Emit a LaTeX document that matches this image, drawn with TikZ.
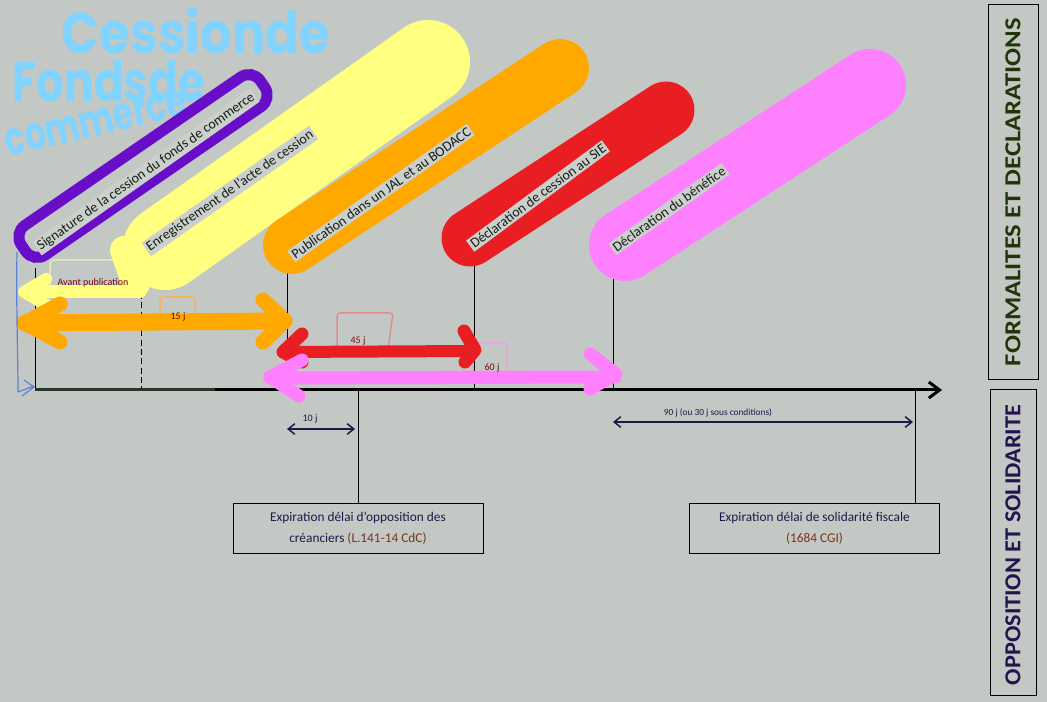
\documentclass[tikz,border=0pt]{standalone}
\usepackage{fontspec}
\setmainfont{Carlito}
\newfontfamily\titlefont{Poppins}
\usetikzlibrary{arrows.meta}
\newdimen\pxunit \pxunit=0.75pt
\definecolor{bg}{RGB}{196,200,197}
\definecolor{labfill}{RGB}{204,208,204}
\definecolor{purplec}{RGB}{104,14,200}
\definecolor{yellowc}{RGB}{255,255,128}
\definecolor{paleyellow}{RGB}{232,232,190}
\definecolor{orangec}{RGB}{255,168,0}
\definecolor{paleorange}{RGB}{240,180,100}
\definecolor{redc}{RGB}{232,30,35}
\definecolor{palered}{RGB}{222,140,140}
\definecolor{pinkc}{RGB}{255,128,255}
\definecolor{palepink}{RGB}{232,160,232}
\definecolor{cyanc}{RGB}{128,212,255}
\definecolor{bluec}{RGB}{90,130,220}
\definecolor{navy}{RGB}{32,24,72}
\definecolor{darkred}{RGB}{120,10,10}
\definecolor{brownc}{RGB}{120,50,30}
\definecolor{greenc}{RGB}{30,55,10}
\definecolor{violetc}{RGB}{35,20,80}
\definecolor{labtext}{RGB}{20,30,20}
\definecolor{darkline}{RGB}{40,52,40}
\tikzset{
  lab/.style={fill=labfill, inner sep=1.5pt, rotate=#1, text=labtext,
    font=\fontsize{10.5}{12}\selectfont},
  marker/.style={line width=#1, line cap=round, line join=round},
  tick/.style={line width=1\pxunit, black},
  smallarrow/.style={line width=1.5\pxunit, navy, {Straight Barb[length=5pt,width=8pt]}-{Straight Barb[length=5pt,width=8pt]}},
  daylab/.style={inner sep=0pt, text=darkred, font=\fontsize{7.5}{9}\selectfont},
  infobox/.style={draw=black, line width=1\pxunit, minimum width=250\pxunit, minimum height=50\pxunit,
    align=center, text=navy, font=\fontsize{10}{15.5}\selectfont},
  sidebox/.style={draw=black, line width=1\pxunit, inner sep=0pt},
  titletext/.style={inner sep=0pt, text=cyanc, font=\titlefont\bfseries}
}
\begin{document}
\begin{tikzpicture}[x=0.75pt,y=-0.75pt]
\useasboundingbox (0,0) rectangle (1047,702);
\fill[bg] (0,0) rectangle (1047,702);

% title
\node[titletext] (t1) at (196,31) {\resizebox{268\pxunit}{46\pxunit}{Cessionde}};
\node[titletext] (t2) at (109,81) {\resizebox{192\pxunit}{41\pxunit}{Fondsde}};
\node[titletext, rotate=13] (t3) at (96,123) {\resizebox{185\pxunit}{26\pxunit}{commerce}};

% timeline and ticks
\coordinate (tstart) at (35,390);
\coordinate (tmid) at (215,390);
\coordinate (tend) at (942,390);
\draw[tick] (35,268) -- (tstart);
\draw[tick, dash pattern=on 4.5pt off 2.5pt] (141,293) -- (141,390);
\draw[tick] (287,262) -- (287,390);
\draw[tick] (474,262) -- (474,390);
\draw[tick] (613,262) -- (613,390);
\draw[line width=3\pxunit, darkline] (tstart) -- (tmid);
\draw[line width=3\pxunit, black, -{Straight Barb[length=8pt,width=12pt]}] (tmid) -- (tend);

% highlight strokes
\draw[marker=84\pxunit, yellowc] (165,248) -- (428,62);
\draw[marker=28\pxunit, yellowc] (124,250) -- (136,284);
\draw[marker=58\pxunit, orangec] (292,245) -- (560,68);
\draw[marker=57\pxunit, redc] (470,238) -- (666,110);
\draw[marker=72\pxunit, pinkc] (625,245) -- (870,85);
\node[draw=purplec, line width=11\pxunit, rounded corners=14\pxunit, minimum width=290\pxunit,
  minimum height=36\pxunit, rotate=34.5] (purplebox) at (143,166) {};

% yellow arrow "Avant publication"
\draw[paleyellow, line width=1.5\pxunit, rounded corners=4\pxunit] (50,292) -- (50,260) -- (113,260);
\draw[marker=13\pxunit, yellowc] (140,292) -- (26,292);
\draw[marker=12\pxunit, yellowc] (46,279) -- (24,292) -- (48,306);
\node[daylab, text=darkred] (avant) at (93,283) {Avant publication};

% outline boxes of day labels
\draw[paleorange, line width=1.5\pxunit, rounded corners=3\pxunit] (160,318) rectangle (195,297);
\draw[palered, line width=1.5\pxunit, rounded corners=3\pxunit] (337,350) -- (337,313) -- (393,313) -- (388,350);
\draw[palepink, line width=1.5\pxunit, rounded corners=3\pxunit] (473,378) -- (473,343) -- (507,343) -- (507,378);

% orange double arrow
\draw[marker=17\pxunit, orangec] (25,323) -- (284,321);
\draw[marker=15\pxunit, orangec] (60,304) -- (25,323) -- (60,342);
\draw[marker=15\pxunit, orangec] (263,300) -- (285,321) -- (263,342);
\node[daylab] (d15) at (178,317) {15 j};

% red double arrow
\draw[marker=12\pxunit, redc] (283,352) -- (474,351);
\draw[marker=13\pxunit, redc] (302,334) -- (283,352) -- (302,362);
\draw[marker=13\pxunit, redc] (464,331) -- (475,350) -- (465,362);
\node[daylab] (d45) at (358,341) {45 j};

% pink double arrow
\draw[marker=13\pxunit, pinkc] (270,378) -- (615,377);
\draw[marker=13\pxunit, pinkc] (302,360) -- (270,377) -- (299,396);
\draw[marker=13\pxunit, pinkc] (590,354) -- (616,374) -- (590,389);
\node[daylab] (d60) at (492,368) {60 j};

% blue link
\draw[bluec, line width=1.2\pxunit] (17,252) .. controls (16,300) and (18,360) .. (18,392);
\draw[bluec, line width=1.2\pxunit] (18,392) -- (34,386) (24,380) -- (34,387) -- (22,396);

% rotated step labels
\node[lab=35.2] (sig) at (146,172) {Signature de la cession du fonds de commerce};
\node[lab=35] (enr) at (230,191) {Enregistrement de l’acte de cession};
\node[lab=35.3] (pub) at (381,193) {Publication dans un JAL et au BODACC};
\node[lab=36.5] (sie) at (538,196) {Déclaration de cession au SIE};
\node[lab=35.5] (ben) at (669,209) {Déclaration du bénéfice};

% lower part
\node[infobox] (opp) at (358,528) {Expiration délai d’opposition des\\créanciers {\color{brownc}(L.141-14 CdC)}};
\node[infobox] (sol) at (814.5,528) {Expiration délai de solidarité fiscale\\{\color{brownc}(1684 CGI)}};
\draw[tick] (opp.north) -- (opp.north |- tstart);
\coordinate (solx) at (915,390);
\draw[tick] (solx) -- (solx |- sol.north);

\draw[smallarrow] (287,429) -- (355,429);
\node[daylab, text=navy] (d10) at (310,419) {10 j};
\draw[smallarrow] (613,422) -- (913,422);
\node[daylab, text=navy, font=\fontsize{7}{8}\selectfont] (d90) at (718,413) {90 j (ou 30 j sous conditions)};

% side boxes
\draw[sidebox] (988,5) rectangle (1038,380);
\node[rotate=90, inner sep=0pt, text=greenc] (form) at (1013,192)
  {\resizebox{348\pxunit}{15\pxunit}{\bfseries FORMALITES ET DECLARATIONS}};
\draw[sidebox] (990,390) rectangle (1036,695);
\node[rotate=90, inner sep=0pt, text=violetc] (oppsol) at (1013,545)
  {\resizebox{280\pxunit}{15\pxunit}{\bfseries OPPOSITION ET SOLIDARITE}};
\end{tikzpicture}
\end{document}
